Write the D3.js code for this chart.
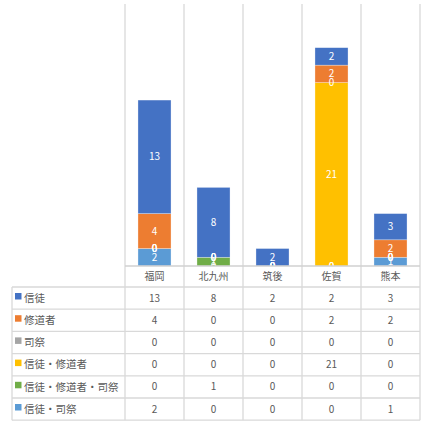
<!DOCTYPE html>
<html>
<head>
<meta charset="utf-8">
<script src="https://cdn.jsdelivr.net/npm/d3@7"></script>
<style>
  body { margin: 0; background: #fff; }
  text { font-family: "Noto Sans CJK JP", "Noto Sans", sans-serif; }
</style>
</head>
<body>
<script>
//chart data
var categories = ["福岡", "北九州", "筑後", "佐賀", "熊本"];
var seriesNames = ["信徒", "修道者", "司祭", "信徒・修道者", "信徒・修道者・司祭", "信徒・司祭"];
var seriesColors = ["#4472C4", "#ED7D31", "#A5A5A5", "#FFC000", "#70AD47", "#5B9BD5"];
var seriesValues = [
    [13, 8, 2, 2, 3],
    [4, 0, 0, 2, 2],
    [0, 0, 0, 0, 0],
    [0, 0, 0, 21, 0],
    [0, 1, 0, 0, 0],
    [2, 0, 0, 0, 1]
];
var yMax = 30;

window.onload = setChart();

function setChart(){
    var width = 421,
        height = 423,
        plotLeft = 125,
        plotRight = 420,
        plotTop = 4,
        baseline = 266,
        tableLeft = 12,
        headerBottom = 287,
        rowHeight = 22.2,
        gridColor = "#d9d9d9",
        textColor = "#595959";

    var svg = d3.select("body")
        .append("svg")
        .attr("width", width)
        .attr("height", height);

    var xScale = d3.scaleBand()
        .domain(categories)
        .range([plotLeft, plotRight]);

    var yScale = d3.scaleLinear()
        .domain([0, yMax])
        .range([baseline, plotTop]);

    var tableBottom = headerBottom + rowHeight * seriesNames.length;

    //vertical grid lines through plot and table
    var vLines = xScale.domain().map(function(d){ return xScale(d); });
    vLines.push(plotRight);
    svg.selectAll(".vgrid")
        .data(vLines)
        .enter()
        .append("line")
        .attr("class", "vgrid")
        .attr("x1", function(d){ return d; })
        .attr("x2", function(d){ return d; })
        .attr("y1", plotTop)
        .attr("y2", tableBottom)
        .attr("stroke", gridColor)
        .attr("stroke-width", 1.3);

    //build rows for stacking (bottom of stack = last series)
    var rows = categories.map(function(c, j){
        var row = { cat: c };
        seriesNames.forEach(function(s, i){ row[s] = seriesValues[i][j]; });
        return row;
    });

    var stackKeys = seriesNames.slice().reverse();
    var stacked = d3.stack().keys(stackKeys)(rows);

    var barWidth = xScale.bandwidth() * 0.56;

    var groups = svg.selectAll(".series")
        .data(stacked)
        .enter()
        .append("g")
        .attr("class", "series")
        .attr("fill", function(d){
            return seriesColors[seriesNames.indexOf(d.key)];
        });

    groups.selectAll("rect")
        .data(function(d){ return d; })
        .enter()
        .append("rect")
        .attr("x", function(d){ return xScale(d.data.cat) + (xScale.bandwidth() - barWidth) / 2; })
        .attr("width", barWidth)
        .attr("y", function(d){ return yScale(d[1]); })
        .attr("height", function(d){ return yScale(d[0]) - yScale(d[1]); })
        .attr("stroke", "rgba(255,255,255,0.5)")
        .attr("stroke-width", 0.6);

    //data labels, drawn above all bars
    var labelGroups = svg.selectAll(".labels")
        .data(stacked)
        .enter()
        .append("g")
        .attr("class", "labels");

    labelGroups.selectAll("text")
        .data(function(d){ return d; })
        .enter()
        .append("text")
        .attr("x", function(d){ return xScale(d.data.cat) + xScale.bandwidth() / 2; })
        .attr("y", function(d){ return yScale((d[0] + d[1]) / 2); })
        .attr("dy", "0.35em")
        .attr("text-anchor", "middle")
        .attr("fill", "#fff")
        .attr("font-size", "10px")
        .text(function(d){ return d[1] - d[0]; });

    //axis line
    svg.append("line")
        .attr("x1", plotLeft)
        .attr("x2", plotRight)
        .attr("y1", baseline)
        .attr("y2", baseline)
        .attr("stroke", "#d0d0d0")
        .attr("stroke-width", 1.3);

    //category labels
    svg.selectAll(".catLabel")
        .data(categories)
        .enter()
        .append("text")
        .attr("class", "catLabel")
        .attr("x", function(d){ return xScale(d) + xScale.bandwidth() / 2; })
        .attr("y", (baseline + headerBottom) / 2)
        .attr("dy", "0.35em")
        .attr("text-anchor", "middle")
        .attr("fill", textColor)
        .attr("font-size", "10px")
        .text(function(d){ return d; });

    //table horizontal lines
    var hLines = d3.range(seriesNames.length + 1).map(function(i){ return headerBottom + i * rowHeight; });
    svg.selectAll(".hgrid")
        .data(hLines)
        .enter()
        .append("line")
        .attr("class", "hgrid")
        .attr("x1", tableLeft)
        .attr("x2", plotRight)
        .attr("y1", function(d){ return d; })
        .attr("y2", function(d){ return d; })
        .attr("stroke", gridColor)
        .attr("stroke-width", 1.3);

    svg.append("line")
        .attr("x1", tableLeft)
        .attr("x2", tableLeft)
        .attr("y1", headerBottom)
        .attr("y2", tableBottom)
        .attr("stroke", gridColor)
        .attr("stroke-width", 1.3);

    //table rows: legend key, name and values
    var tableRows = svg.selectAll(".tableRow")
        .data(seriesNames)
        .enter()
        .append("g")
        .attr("class", "tableRow")
        .attr("transform", function(d, i){
            return "translate(0," + (headerBottom + i * rowHeight) + ")";
        });

    tableRows.append("rect")
        .attr("x", 15)
        .attr("y", 6)
        .attr("width", 6.5)
        .attr("height", 6.5)
        .attr("fill", function(d, i){ return seriesColors[i]; });

    tableRows.append("text")
        .attr("x", 24)
        .attr("y", rowHeight / 2)
        .attr("dy", "0.35em")
        .attr("fill", textColor)
        .attr("font-size", "10.5px")
        .text(function(d){ return d; });

    tableRows.selectAll(".cell")
        .data(function(d, i){ return seriesValues[i]; })
        .enter()
        .append("text")
        .attr("class", "cell")
        .attr("x", function(d, j){ return xScale(categories[j]) + xScale.bandwidth() / 2; })
        .attr("y", rowHeight / 2)
        .attr("dy", "0.35em")
        .attr("text-anchor", "middle")
        .attr("fill", textColor)
        .attr("font-size", "10px")
        .text(function(d){ return d; });
};
</script>
</body>
</html>
